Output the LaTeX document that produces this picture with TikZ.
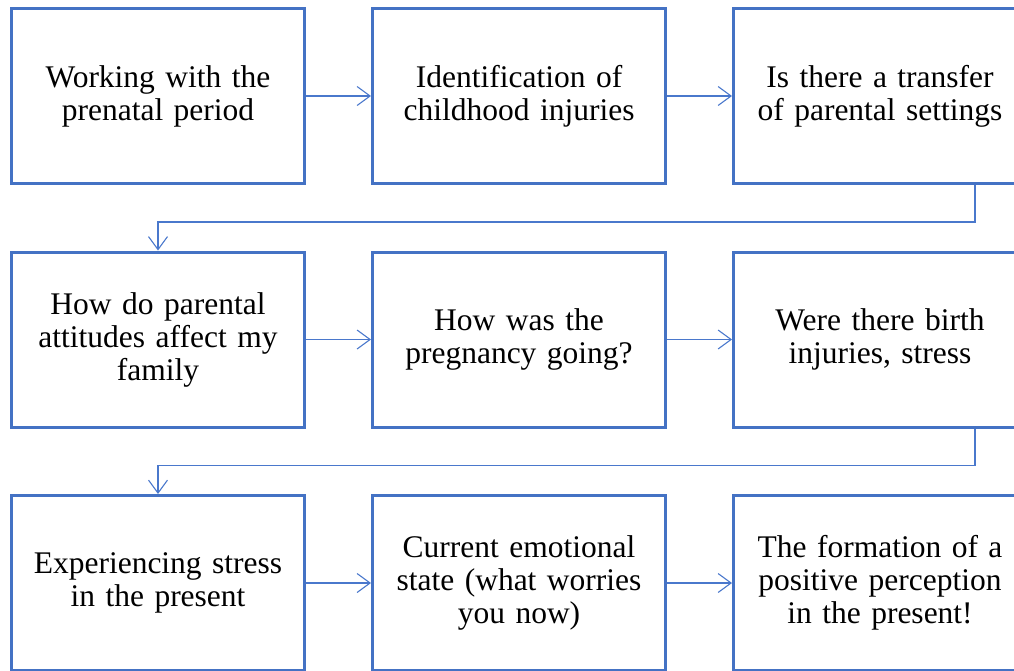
\documentclass[tikz,border=0pt]{standalone}
\usepackage{fontspec}
\setmainfont{Liberation Serif}
\usetikzlibrary{arrows.meta}
\definecolor{boxblue}{HTML}{4472C4}
\definecolor{lineblue}{HTML}{4A78CC}
\tikzset{
  stepbox/.style={draw=boxblue, line width=3pt, fill=white, rectangle,
    minimum width=293pt, minimum height=175pt, inner sep=0pt,
    align=center, text width=285pt, font=\fontsize{31.5}{33}\selectfont},
  link/.style={draw=lineblue, line width=1.1pt,
    -{Straight Barb[length=13pt, width=19pt, line width=1.1pt]}}
}
\begin{document}
\begin{tikzpicture}[x=1pt, y=-1pt]
\useasboundingbox (0,0) rectangle (1014,670);
\begin{scope}
\clip (0,0) rectangle (1014,670);
\node[stepbox] (n1) at (158,96) {Working with the\\prenatal period};
\node[stepbox] (n2) at (519,96) {Identification of\\childhood injuries};
\node[stepbox] (n3) at (880,96) {Is there a transfer\\of parental settings};
\node[stepbox] (n4) at (158,339.5) {How do parental\\attitudes affect my\\family};
\node[stepbox] (n5) at (519,339.5) {How was the\\pregnancy going?};
\node[stepbox] (n6) at (880,339.5) {Were there birth\\injuries, stress};
\node[stepbox] (n7) at (158,583) {Experiencing stress\\in the present};
\node[stepbox] (n8) at (519,583) {Current emotional\\state (what worries\\you now)};
\node[stepbox] (n9) at (880,583) {The formation of a\\positive perception\\in the present!};
\coordinate (d1) at (975,222);
\coordinate (d2) at (975,465.5);
\draw[link] (n1.east) -- (n2.west);
\draw[link] (n2.east) -- (n3.west);
\draw[link] (d1 |- n3.south) -- (d1) -| (n4.north);
\draw[link] (n4.east) -- (n5.west);
\draw[link] (n5.east) -- (n6.west);
\draw[link] (d2 |- n6.south) -- (d2) -| (n7.north);
\draw[link] (n7.east) -- (n8.west);
\draw[link] (n8.east) -- (n9.west);
\end{scope}
\end{tikzpicture}
\end{document}
